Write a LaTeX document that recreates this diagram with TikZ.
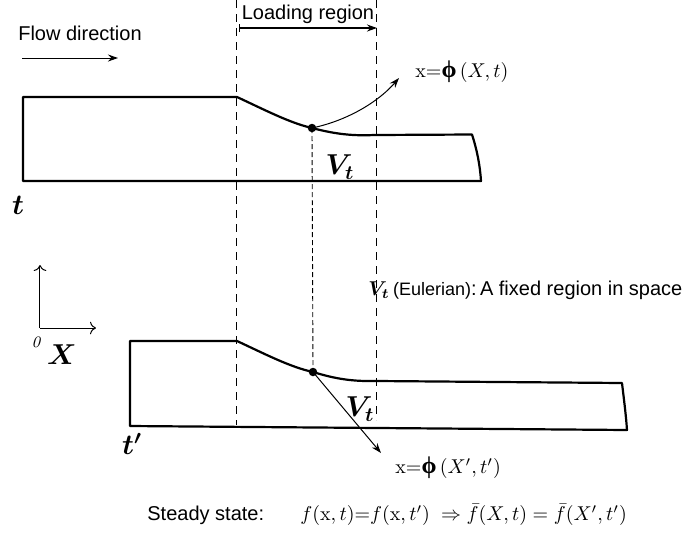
\documentclass[tikz,border=0pt]{standalone}
\usepackage{amsmath}
\usepackage{amssymb}
\usepackage{bm}
\usepackage[no-math]{fontspec}
\setmainfont{Liberation Sans}
\newfontfamily\serifgr{Liberation Serif}
\usetikzlibrary{arrows.meta, positioning, calc}

\newcommand{\bphi}{\text{\serifgr\bfseries\large ϕ}}

\begin{document}
\begin{tikzpicture}[x=0.5pt, y=-0.5pt, >={Stealth[length=5pt, width=3.5pt]},
    wall/.style={line width=1.1pt, line join=round},
    guide/.style={dash pattern=on 4pt off 3pt, line width=0.5pt},
    fineguide/.style={dash pattern=on 2.5pt off 1.5pt, line width=0.45pt},
    pointer/.style={->, line width=0.5pt},
    dot/.style={circle, fill, inner sep=1.5pt},
    bigsym/.style={font=\Large},
    txt/.style={inner sep=1pt}]
        % ============================================================
        % wspolrzedne w pikselach obrazka (y w dol)
        % ============================================================
        \useasboundingbox (0,0) rectangle (693,538);

        % === 1. KIERUNEK PRZEPLYWU ===
        \node[txt] (flow) at (80,33) {Flow direction};
        \coordinate (flowA) at (22,58);
        \coordinate (flowB) at (118,58);
        \draw[pointer] (flowA) -- (flowB);

        % === 2. LINIE PRZERYWANE (obszar obciazenia) ===
        \draw[guide] (237,0) -- (237,425);
        \draw[guide] (377,0) -- (377,420);

        \node[txt] (load) at (308,14) {Loading region};
        \coordinate (loadA) at (239,28);
        \coordinate (loadB) at (377,28);
        \draw[{Bar[width=4pt]}-{Stealth[length=5pt, width=3.5pt]}, line width=0.6pt] (loadA) -- (loadB);

        % === 3. CHWILA t ===
        \draw[wall] (23,97) -- (237,97)
            .. controls (265,110) and (290,123) .. (312,128)
            .. controls (335,134) and (352,136) .. (374,135)
            -- (472,134.5)
            .. controls (477,150) and (480,165) .. (481,181)
            -- (23,181) -- cycle;
        \node[dot] (p1) at (312,128) {};
        \node[txt, anchor=west] (map1) at (413,72) {$\mathrm{x}{=}\bphi\,(X,t)$};
        \draw[pointer] (p1.center) .. controls (350,120) and (380,100) .. ($(map1.west)+(-14,6)$);
        \node[bigsym] (vt1) at (340,167) {$\bm{V_t}$};
        \node[bigsym] (t1) at (18,205) {$\bm{t}$};

        % === 4. UKLAD OSI ===
        \coordinate (o) at (40,328);
        \coordinate (oy) at (40,265);
        \coordinate (ox) at (96,328);
        \draw[->, >={To[length=3pt]}, line width=0.5pt] (o) -- (oy);
        \draw[->, >={To[length=3pt]}, line width=0.5pt] (o) -- (ox);
        \node[font=\footnotesize] (zero) at (37,342) {$\mathit{0}$};
        \node[bigsym] (bigX) at (62,355) {$\bm{X}$};

        % === 5. EULER ===
        \node[txt, anchor=west] (euler) at (366,290)
            {$\bm{V_t}$\,{\small(Eulerian)}:\,A fixed region in space};

        % === 6. CHWILA t' ===
        \draw[wall] (130,341) -- (237,341)
            .. controls (265,354) and (290,367) .. (313,372)
            .. controls (336,379) and (352,381.5) .. (377,381)
            -- (622,383)
            .. controls (624,400) and (626,415) .. (627,430)
            -- (130,426) -- cycle;
        \node[dot] (p2) at (313,372) {};
        \draw[fineguide] (p1.center) -- (p2.center);
        \node[txt, anchor=west] (map2) at (393,468) {$\mathrm{x}{=}\bphi\,(X',t')$};
        \draw[pointer] (p2.center) -- ($(map2.west)+(-12,-15)$);
        \node[bigsym] (vt2) at (360,409) {$\bm{V_t}$};
        \node[bigsym] (t2) at (132,444) {$\bm{t'}$};

        % === 7. STAN USTALONY ===
        \node[txt, anchor=west] (steady) at (145,515) {Steady state:};
        \node[txt, anchor=west] (eq) at (298,515)
            {$f(\mathrm{x},t){=}f(\mathrm{x},t')\;\Rightarrow\bar{f}(X,t)=\bar{f}(X',t')$};

    \end{tikzpicture}
\end{document}
